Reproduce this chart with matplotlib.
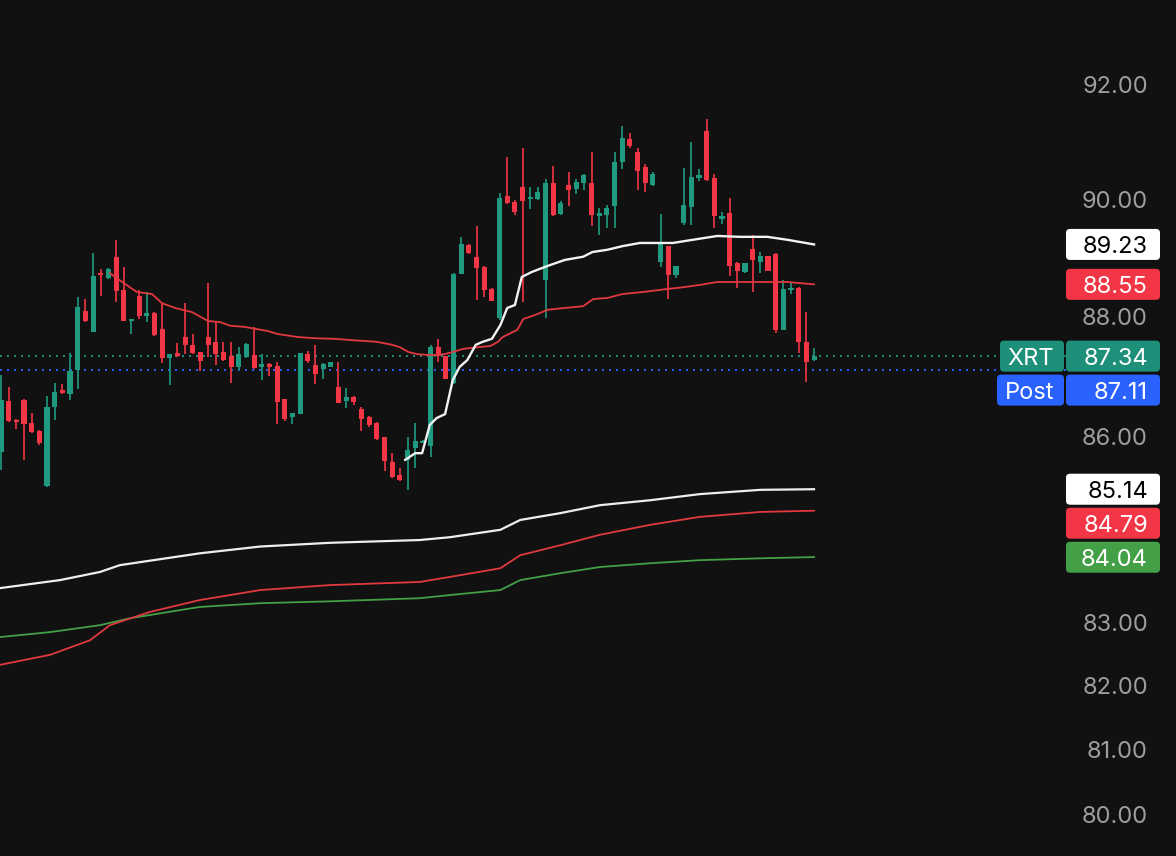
import matplotlib
matplotlib.use('Agg')
import matplotlib.pyplot as plt
import numpy as np
from matplotlib.patches import FancyBboxPatch
from matplotlib.transforms import IdentityTransform
from matplotlib.ticker import FixedLocator, NullLocator, FormatStrFormatter

# candles (one per bar, left to right)
opens = [85.75, 86.60, 86.28, 86.61, 86.23, 86.10, 85.19, 86.49, 86.77, 86.71,
         87.11, 88.10, 87.745, 88.74, 88.66, 89.02, 88.45, 87.93, 88.35, 88.02,
         88.07, 87.80, 87.31, 87.39, 87.66, 87.53, 87.41, 87.66, 87.58, 87.41,
         87.34, 87.16, 87.325, 87.36, 87.16, 87.21, 87.175, 86.625, 86.33, 86.375,
         87.375, 87.19, 87.125, 87.16, 86.825, 86.59, 86.66, 86.46, 86.33, 86.23,
         85.995, 85.585, 85.37, 85.62, 85.815, 85.90, 85.85, 87.49, 87.34, 86.89,
         88.73, 89.22, 89.02, 88.85, 88.47, 87.98, 90.06, 89.96, 90.22, 90.01,
         90.01, 88.62, 90.29, 89.75, 90.25, 90.185, 90.29, 90.29, 89.71, 89.735,
         89.89, 90.65, 91.05, 90.83, 90.57, 90.25, 88.93, 89.20, 88.71, 89.60,
         89.87, 90.37, 91.19, 90.37, 89.67, 89.77, 88.91, 88.76, 89.15, 88.93,
         89.03, 89.07, 87.78, 88.45, 88.49, 87.58, 87.275]
highs = [87.02, 86.82, 86.29, 86.62, 86.39, 86.11, 86.675, 86.89, 86.87, 87.39,
         88.34, 88.30, 89.08, 88.81, 88.83, 89.31, 88.85, 87.96, 88.45, 88.42,
         88.08, 88.23, 87.38, 87.56, 88.23, 87.71, 87.41, 88.57, 87.91, 87.58,
         87.58, 87.49, 87.56, 87.83, 87.375, 87.22, 87.24, 86.63, 86.40, 87.40,
         87.425, 87.53, 87.225, 87.25, 87.24, 86.81, 86.67, 86.49, 86.34, 86.24,
         86.00, 85.73, 85.49, 85.995, 86.23, 85.94, 87.53, 87.63, 87.35, 88.74,
         89.36, 89.23, 89.55, 88.86, 88.48, 90.12, 90.74, 89.99, 90.895, 90.22,
         90.22, 90.36, 90.58, 89.97, 90.48, 90.36, 90.44, 90.83, 89.86, 89.91,
         90.83, 91.28, 91.16, 90.895, 90.62, 90.48, 89.75, 89.21, 88.87, 90.55,
         91.00, 90.53, 91.40, 90.44, 89.79, 90.03, 88.93, 88.92, 89.39, 89.10,
         89.04, 89.08, 88.62, 88.57, 88.50, 88.08, 87.47]
lows = [85.45, 86.24, 86.13, 85.62, 86.06, 85.86, 85.18, 86.28, 86.71, 86.61,
        86.79, 87.91, 87.74, 88.35, 88.64, 88.25, 87.93, 87.71, 87.96, 87.91,
        87.68, 87.225, 86.86, 87.325, 87.375, 87.375, 87.09, 87.325, 87.19, 87.26,
        86.89, 87.11, 87.31, 87.125, 86.94, 87.01, 86.21, 86.26, 86.21, 86.37,
        87.225, 86.87, 86.96, 87.15, 86.555, 86.475, 86.525, 86.10, 86.16, 85.95,
        85.44, 85.32, 85.28, 85.13, 85.49, 85.89, 85.67, 87.24, 86.95, 86.88,
        88.72, 89.07, 88.285, 88.34, 88.26, 87.95, 89.92, 89.735, 88.25, 89.84,
        89.99, 87.98, 89.72, 89.735, 89.89, 90.10, 90.17, 89.55, 89.39, 89.51,
        89.51, 90.53, 90.895, 90.17, 90.13, 90.24, 88.845, 88.30, 88.66, 89.56,
        89.56, 90.32, 90.32, 89.51, 89.58, 88.69, 88.49, 88.75, 88.42, 88.74,
        88.77, 87.73, 87.77, 88.39, 87.39, 86.91, 87.26]
closes = [86.61, 86.265, 86.25, 86.21, 86.08, 85.90, 86.49, 86.74, 86.72, 87.09,
          88.17, 87.93, 88.69, 88.71, 88.81, 88.44, 87.93, 87.96, 88.02, 88.07,
          87.69, 87.31, 87.375, 87.34, 87.53, 87.39, 87.26, 87.53, 87.375, 87.275,
          87.16, 87.375, 87.54, 87.14, 87.21, 87.16, 86.575, 86.29, 86.39, 87.39,
          87.26, 87.04, 87.21, 87.24, 86.56, 86.66, 86.575, 86.29, 86.195, 85.96,
          85.60, 85.34, 85.29, 85.78, 85.93, 85.93, 87.49, 87.34, 86.96, 88.73,
          89.24, 89.08, 88.83, 88.455, 88.27, 90.03, 89.94, 89.79, 89.98, 90.04,
          90.13, 90.29, 89.735, 89.94, 90.17, 90.31, 90.43, 89.735, 89.77, 89.86,
          90.65, 91.07, 90.93, 90.50, 90.29, 90.44, 89.24, 88.71, 88.86, 89.91,
          90.39, 90.43, 90.34, 89.72, 89.72, 88.86, 88.78, 88.91, 88.965, 89.03,
          88.78, 87.78, 88.47, 88.49, 87.58, 87.24, 87.34]

# overlay lines: bar position and value
vwap_x = [52.7, 54.0, 54.9, 55.9, 56.8, 57.9, 58.9, 59.8, 60.8, 61.9,
          62.8, 64.0, 65.1, 66.0, 67.0, 67.9, 69.2, 71.2, 73.5, 75.9,
          77.1, 79.1, 81.0, 83.3, 87.6, 90.2, 93.4, 96.3, 99.9, 102.5, 106]
vwap_y = [85.62, 85.73, 85.73, 86.195, 86.31, 86.375, 86.94, 87.16, 87.275, 87.53,
          87.58, 87.63, 87.86, 88.15, 88.20, 88.675, 88.76, 88.86, 88.965, 89.02,
          89.10, 89.14, 89.20, 89.255, 89.255, 89.31, 89.375, 89.36, 89.36, 89.31, 89.23]

ma_fast_x = [14.2, 15.8, 17.7, 19.7, 21.0, 22.7, 24.9, 27.0, 28.6, 29.9,
             31.8, 34.8, 36.1, 38.7, 40.9, 43.5, 45.5, 49.0, 51.0, 52.0,
             53.1, 54.2, 55.5, 56.8, 57.9, 58.9, 60.2, 61.5, 63.8, 64.8,
             65.4, 67.3, 68.1, 69.4, 71.3, 73.5, 75.9, 77.2, 79.1, 81.0,
             83.7, 86.8, 88.9, 91.1, 93.4, 99.9, 102.5, 106]
ma_fast_y = [88.74, 88.59, 88.42, 88.385, 88.23, 88.15, 88.08, 87.93, 87.91, 87.85,
             87.83, 87.76, 87.71, 87.66, 87.64, 87.63, 87.61, 87.58, 87.53, 87.49,
             87.41, 87.375, 87.36, 87.36, 87.375, 87.41, 87.46, 87.48, 87.51, 87.58,
             87.66, 87.78, 87.965, 88.02, 88.12, 88.15, 88.18, 88.30, 88.32, 88.385,
             88.42, 88.47, 88.50, 88.54, 88.59, 88.59, 88.59, 88.55]

ma_white_x = [-0.2, 7.7, 12.9, 15.5, 25.9, 33.8, 42.9, 54.6, 58.5, 65.1,
              67.7, 72.9, 78.1, 84.6, 91.1, 99.0, 106]
ma_white_y = [83.54, 83.67, 83.80, 83.91, 84.10, 84.21, 84.27, 84.315, 84.36, 84.48,
              84.64, 84.75, 84.88, 84.96, 85.06, 85.13, 85.14]

ma_red_x = [-0.2, 6.4, 11.6, 14.2, 19.4, 25.9, 33.8, 42.9, 54.6, 58.5,
            65.1, 67.7, 72.9, 78.1, 84.6, 91.1, 99.0, 106]
ma_red_y = [82.32, 82.48, 82.71, 82.95, 83.16, 83.35, 83.51, 83.59, 83.64, 83.72,
            83.86, 84.07, 84.23, 84.40, 84.56, 84.69, 84.77, 84.79]

ma_green_x = [-0.2, 6.4, 12.9, 16.8, 25.9, 33.8, 42.9, 54.6, 58.5, 65.1,
              67.7, 72.9, 78.1, 84.6, 91.1, 99.0, 106]
ma_green_y = [82.76, 82.84, 82.95, 83.06, 83.24, 83.30, 83.33, 83.38, 83.43, 83.51,
              83.67, 83.78, 83.88, 83.94, 83.99, 84.02, 84.04]

last_price = 87.34
post_price = 87.11
yticks = [80, 81, 82, 83, 86, 88, 90, 92]

BG = '#111111'
UP = '#1f9a80'
DOWN = '#f23645'
TEAL = '#1e8f78'
BLUE = '#2962ff'
GREEN = '#43a047'
FONT = 'Inter'
FS = 17

W, H = 1176, 856
fig = plt.figure(figsize=(W / 100, H / 100), dpi=100, facecolor=BG)
ax = fig.add_axes([0, 0, 1066 / W, 1])
ax.set_facecolor(BG)

n = len(opens)
idx = np.arange(n)
o = np.array(opens)
c = np.array(closes)
up = c >= o
cols = np.where(up, UP, DOWN)

ax.vlines(idx, lows, highs, colors=cols, linewidth=1.2, zorder=2)
bottom = np.minimum(o, c)
height = np.maximum(np.abs(c - o), 0.025)
ax.bar(idx, height, bottom=bottom, width=0.66, color=cols, linewidth=0, zorder=3)

ax.plot(ma_green_x, ma_green_y, color=GREEN, lw=1.3, zorder=4)
ax.plot(ma_red_x, ma_red_y, color='#e0393f', lw=1.3, zorder=4)
ax.plot(ma_white_x, ma_white_y, color='#eeeeee', lw=1.6, zorder=4)
ax.plot(ma_fast_x, ma_fast_y, color='#e0393f', lw=1.3, zorder=4)
ax.plot(vwap_x, vwap_y, color='#f2f2f2', lw=1.7, zorder=5)

ax.axhline(last_price, color=TEAL, lw=1.4, ls=(0, (1, 2.6)), zorder=1)
ax.axhline(post_price, color=BLUE, lw=1.4, ls=(0, (1, 2.6)), zorder=1)

ax.set_yscale('log')
ax.set_ylim(79.36, 93.51)
ax.set_xlim(-0.13, 138.85)
ax.yaxis.set_major_locator(FixedLocator(yticks))
ax.yaxis.set_minor_locator(NullLocator())
ax.yaxis.set_major_formatter(FormatStrFormatter('%.2f'))
ax.yaxis.tick_right()
ax.tick_params(axis='y', length=0, pad=59, labelcolor='#9e9e9e', labelsize=FS)
for lab in ax.get_yticklabels():
    lab.set_horizontalalignment('right')
    lab.set_fontfamily(FONT)
ax.set_xticks([])
for s in ax.spines.values():
    s.set_visible(False)

# right-hand price tags, stacked so they don't overlap
def ypix(v):
    return H - ax.transData.transform((0, v))[1]

def stack(vals, bh=31, gap=3):
    out = []
    prev = -1e9
    for v in vals:
        yc = ypix(v)
        top = max(yc - bh / 2, prev + gap)
        out.append(top + bh / 2)
        prev = top + bh
    return out

def tag(x0, w, yc, color, txt, tcolor, ha='right', tx=None, bh=31):
    box = FancyBboxPatch((x0, H - yc - bh / 2), w, bh,
                         boxstyle='round,pad=0,rounding_size=4',
                         facecolor=color, edgecolor='none',
                         transform=IdentityTransform(), zorder=10)
    fig.add_artist(box)
    if tx is None:
        tx = x0 + w - 12
    fig.text(tx / W, (H - yc) / H, txt, color=tcolor, ha=ha, va='center_baseline',
             fontsize=FS, family=FONT, zorder=11)

top_vals = [89.23, 88.55]
top_cols = ['#ffffff', DOWN]
top_txt = ['black', 'white']
for v, yc, col, tc in zip(top_vals, stack(top_vals), top_cols, top_txt):
    tag(1066, 94, yc, col, f'{v:.2f}', tc)

low_vals = [85.14, 84.79, 84.04]
low_cols = ['#ffffff', DOWN, GREEN]
low_txt = ['black', 'white', 'white']
for v, yc, col, tc in zip(low_vals, stack(low_vals), low_cols, low_txt):
    tag(1066, 94, yc, col, f'{v:.2f}', tc)

y_last, y_post = stack([last_price, post_price])
tag(1000, 64, y_last, TEAL, 'XRT', 'white', ha='center', tx=1031)
tag(1066, 94, y_last, TEAL, f'{last_price:.2f}', 'white')
tag(997, 67, y_post, BLUE, 'Post', 'white', ha='center', tx=1030)
tag(1066, 94, y_post, BLUE, f'{post_price:.2f}', 'white')

fig.savefig('out.png', dpi=100, facecolor=BG)
